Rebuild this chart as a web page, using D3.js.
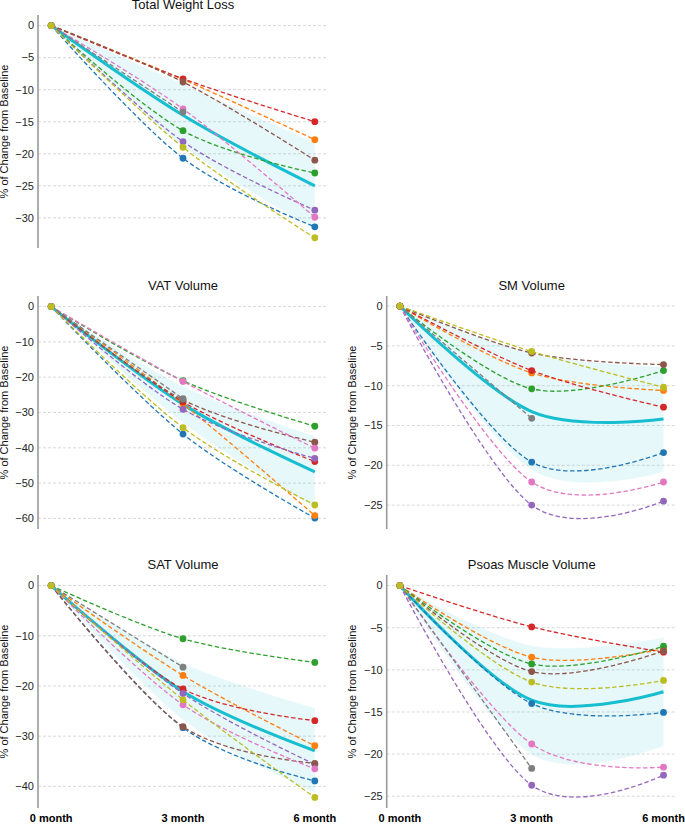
<!DOCTYPE html>
<html>
<head>
<meta charset="utf-8">
<script src="https://cdn.jsdelivr.net/npm/d3@7"></script>
<style>
  body { margin: 0; background: #fff; }
  text { font-family: "Liberation Sans", Arial, sans-serif; }
</style>
</head>
<body>
<div id="my_dataviz"></div>
<script>
// time points and labels
var months = [0, 3, 6];
var monthLabels = ["0 month", "3 month", "6 month"];

// subjects in plot order: blue, orange, green, red, purple, brown, pink, gray, olive
var totalWeight = [
  [0, -20.7, -31.4], [0, -8.4, -17.8], [0, -16.4, -23.0], [0, -8.3, -15.0], [0, -18.1, -28.8],
  [0, -8.8, -21.0], [0, -13.0, -29.9], [0, -13.5, null], [0, -19.0, -33.1]
];
var totalMean = [0, -14.0, -25.0];
var totalHi = [0, -9.2, -18.3];
var totalLo = [0, -18.8, -31.7];
var totalTicks = [0, -5, -10, -15, -20, -25, -30];
var totalDomain = [-34.7, 1.65];

var vatVolume = [
  [0, -36.1, -59.9], [0, -27.6, -59.2], [0, -21.0, -33.9], [0, -27.0, -43.9], [0, -29.1, -43.0],
  [0, -26.4, -38.4], [0, -21.2, -40.1], [0, -26.1, null], [0, -34.3, -56.2]
];
var vatMean = [0, -27.7, -46.8];
var vatHi = [0, -22.6, -36.7];
var vatLo = [0, -32.8, -56.9];
var vatTicks = [0, -10, -20, -30, -40, -50, -60];
var vatDomain = [-63, 3];

var smVolume = [
  [0, -19.6, -18.4], [0, -8.4, -10.6], [0, -10.4, -8.1], [0, -8.1, -12.7], [0, -25.0, -24.5],
  [0, -5.9, -7.35], [0, -22.1, -22.1], [0, -14.1, null], [0, -5.7, -10.2]
];
var smMean = [0, -13.25, -14.2];
var smHi = [0, -5.95, -7.65];
var smLo = [0, -20.55, -20.8];
var smTicks = [0, -5, -10, -15, -20, -25];
var smDomain = [-28.0, 1.26];

var satVolume = [
  [0, -28.3, -38.9], [0, -17.9, -31.9], [0, -10.6, -15.3], [0, -20.6, -26.9], [0, -21.5, -35.6],
  [0, -28.1, -35.4], [0, -23.75, -36.5], [0, -16.25, null], [0, -22.75, -42.2]
];
var satMean = [0, -21.1, -32.9];
var satHi = [0, -15.4, -24.4];
var satLo = [0, -26.7, -41.3];
var satTicks = [0, -10, -20, -30, -40];
var satDomain = [-44.3, 2.1];

var psoasVolume = [
  [0, -14.0, -15.05], [0, -8.5, -7.5], [0, -9.3, -7.2], [0, -4.9, -7.9], [0, -23.7, -22.5],
  [0, -10.2, -7.75], [0, -18.8, -21.55], [0, -21.7, null], [0, -11.45, -11.25]
];
var psoasMean = [0, -13.6, -12.6];
var psoasHi = [0, -7.15, -6.2];
var psoasLo = [0, -20.05, -19.0];
var psoasTicks = [0, -5, -10, -15, -20, -25];
var psoasDomain = [-26.4, 1.26];

var colors = ["#1f77b4", "#ff7f0e", "#2ca02c", "#d62728", "#9467bd",
              "#8c564b", "#e377c2", "#7f7f7f", "#bcbd22"];
var meanColor = "#17becf";

var svg = d3.select("#my_dataviz")
  .append("svg")
    .attr("width", 685)
    .attr("height", 824);

// panel grid
var colLeft = [38, 386.7],
    colWidth = 290,
    rowTop = [15, 296, 575],
    rowHeight = 233;

var panels = [
  {title: "Total Weight Loss", col: 0, row: 0, subjects: totalWeight, mean: totalMean, hi: totalHi, lo: totalLo, ticks: totalTicks, domain: totalDomain},
  {title: "VAT Volume", col: 0, row: 1, subjects: vatVolume, mean: vatMean, hi: vatHi, lo: vatLo, ticks: vatTicks, domain: vatDomain},
  {title: "SM Volume", col: 1, row: 1, subjects: smVolume, mean: smMean, hi: smHi, lo: smLo, ticks: smTicks, domain: smDomain},
  {title: "SAT Volume", col: 0, row: 2, subjects: satVolume, mean: satMean, hi: satHi, lo: satLo, ticks: satTicks, domain: satDomain},
  {title: "Psoas Muscle Volume", col: 1, row: 2, subjects: psoasVolume, mean: psoasMean, hi: psoasHi, lo: psoasLo, ticks: psoasTicks, domain: psoasDomain}
];

var fmt = function(v) { return v < 0 ? "\u2212" + Math.abs(v) : String(v); };

var drawPanel = function(p) {
  var left = colLeft[p.col], top = rowTop[p.row];

  var x = d3.scaleLinear().domain([-0.3, 6.3]).range([left, left + colWidth]);
  var y = d3.scaleLinear().domain(p.domain).range([top + rowHeight, top]);

  var g = svg.append("g");

  // dashed horizontal grid
  g.selectAll("line.grid")
    .data(p.ticks)
    .enter()
    .append("line")
      .attr("x1", left)
      .attr("x2", left + colWidth)
      .attr("y1", function(d) { return y(d); })
      .attr("y2", function(d) { return y(d); })
      .attr("stroke", "#cfcfcf")
      .attr("stroke-width", 0.8)
      .attr("stroke-dasharray", "3,2");

  // y tick labels
  g.selectAll("text.tick")
    .data(p.ticks)
    .enter()
    .append("text")
      .attr("x", left - 4)
      .attr("y", function(d) { return y(d); })
      .attr("dy", "0.35em")
      .attr("text-anchor", "end")
      .style("font-size", "11px")
      .attr("fill", "#262626")
      .text(fmt);

  // left spine
  g.append("line")
    .attr("x1", left).attr("x2", left)
    .attr("y1", top).attr("y2", top + rowHeight)
    .attr("stroke", "#9a9a9a")
    .attr("stroke-width", 1.6);

  // title
  g.append("text")
    .attr("x", left + colWidth / 2)
    .attr("y", top - 6)
    .attr("text-anchor", "middle")
    .style("font-size", "13px")
    .attr("fill", "#111")
    .text(p.title);

  // y label
  g.append("text")
    .attr("transform", "translate(" + (left - 30.5) + "," + (top + rowHeight / 2) + ")rotate(-90)")
    .attr("text-anchor", "middle")
    .style("font-size", "11px")
    .attr("fill", "#111")
    .text("% of Change from Baseline");

  // sd band
  var area = d3.area()
    .x(function(d, i) { return x(months[i]); })
    .y0(function(d, i) { return y(p.lo[i]); })
    .y1(function(d, i) { return y(p.hi[i]); })
    .curve(d3.curveCardinal);
  g.append("path")
    .datum(p.mean)
    .attr("d", area)
    .attr("fill", meanColor)
    .attr("fill-opacity", 0.1);

  // mean line
  var line = d3.line()
    .x(function(d) { return x(d[0]); })
    .y(function(d) { return y(d[1]); })
    .curve(d3.curveCardinal);
  g.append("path")
    .datum(p.mean.map(function(v, i) { return [months[i], v]; }))
    .attr("d", line)
    .attr("fill", "none")
    .attr("stroke", meanColor)
    .attr("stroke-width", 3);

  // subjects
  p.subjects.forEach(function(s, k) {
    var pts = s.map(function(v, i) { return [months[i], v]; })
               .filter(function(d) { return d[1] != null; });
    g.append("path")
      .datum(pts)
      .attr("d", line)
      .attr("fill", "none")
      .attr("stroke", colors[k])
      .attr("stroke-width", 1.3)
      .attr("stroke-dasharray", "4.5,2.5");
    g.selectAll(null)
      .data(pts)
      .enter()
      .append("circle")
        .attr("cx", function(d) { return x(d[0]); })
        .attr("cy", function(d) { return y(d[1]); })
        .attr("r", 3.4)
        .attr("fill", colors[k]);
  });

  // month labels on bottom row only
  if (p.row == 2) {
    g.selectAll("text.month")
      .data(months)
      .enter()
      .append("text")
        .attr("x", function(d) { return x(d); })
        .attr("y", 822)
        .attr("text-anchor", "middle")
        .style("font-size", "11px")
        .style("font-weight", "bold")
        .attr("fill", "#000")
        .text(function(d, i) { return monthLabels[i]; });
  }
};

panels.forEach(drawPanel);
</script>
</body>
</html>
